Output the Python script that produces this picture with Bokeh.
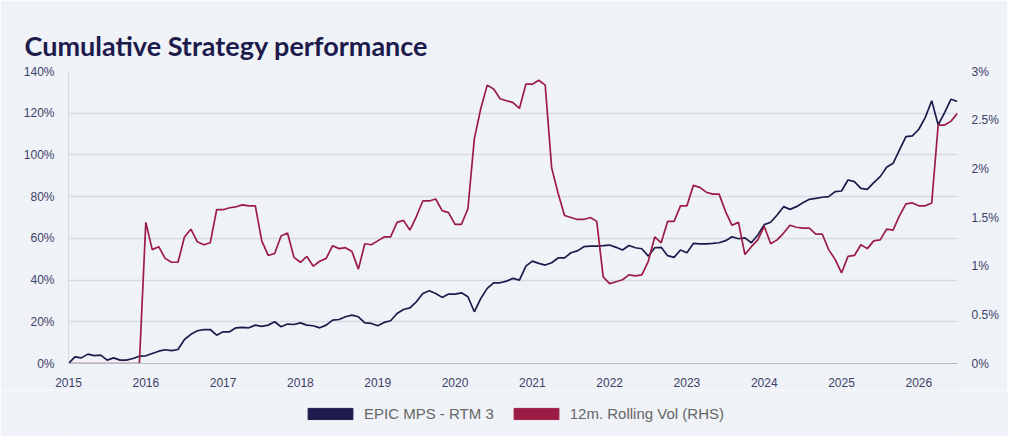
from bokeh.plotting import figure
from bokeh.layouts import column
from bokeh.models import Range1d, LinearAxis, CustomJSTickFormatter, FixedTicker, Legend, LegendItem
from bokeh.embed import file_html
from bokeh.resources import INLINE

months = list(range(139))
epic = [0, 3.2, 2.7, 4.5, 3.8, 4, 1.6, 2.7, 1.6, 1.6, 2.4, 3.5,
        3.7, 4.8, 5.9, 6.6, 6.2, 6.7, 11.5, 14, 15.7, 16.2, 16.3, 13.6,
        15.2, 15.2, 17.1, 17.3, 17.1, 18.4, 17.8, 18.4, 20, 17.6, 18.9, 18.7,
        19.5, 18.4, 18.1, 17.1, 18.4, 20.8, 21.1, 22.4, 23.2, 22.4, 19.5, 19.2,
        18.1, 19.7, 20.5, 24, 25.9, 26.7, 29.6, 33.6, 34.9, 33.6, 31.7, 33.3,
        33.3, 33.9, 32, 24.8, 31.2, 36, 38.7, 38.7, 39.5, 40.8, 40, 46.7,
        49.1, 48, 47.2, 48.3, 50.6, 50.6, 53.1, 54, 56, 56.3, 56.3, 56.5,
        56.8, 55.7, 54.4, 56.6, 55.5, 55, 51.5, 55.5, 55.7, 51.7, 50.9, 54.4,
        53.1, 57.6, 57.4, 57.4, 57.6, 57.9, 58.9, 60.8, 59.8, 60.2, 57.9, 61.6,
        66.6, 67.7, 71.2, 75.2, 73.9, 75.2, 77.1, 78.7, 79.2, 79.7, 80, 82.4,
        82.7, 88, 87.2, 84, 83.5, 86.7, 89.6, 94.1, 96, 102.4, 108.8, 109.1,
        112.3, 118, 126, 114.4, 120.3, 126.7, 125.6]
vol = [0]*12 + [1.45, 1.17, 1.20, 1.08, 1.04, 1.04, 1.30, 1.38, 1.25, 1.22, 1.24, 1.58,
        1.58, 1.60, 1.61, 1.63, 1.62, 1.62, 1.26, 1.11, 1.13, 1.31, 1.34, 1.09,
        1.04, 1.10, 1.00, 1.05, 1.08, 1.21, 1.18, 1.19, 1.15, 0.97, 1.23, 1.22,
        1.26, 1.30, 1.30, 1.45, 1.47, 1.37, 1.51, 1.67, 1.67, 1.69, 1.57, 1.55,
        1.43, 1.43, 1.59, 2.31, 2.62, 2.86, 2.82, 2.72, 2.70, 2.68, 2.62, 2.87,
        2.87, 2.91, 2.86, 2.01, 1.75, 1.52, 1.50, 1.48, 1.48, 1.50, 1.46, 0.89,
        0.82, 0.84, 0.86, 0.91, 0.90, 0.91, 1.05, 1.30, 1.24, 1.46, 1.46, 1.62,
        1.62, 1.83, 1.81, 1.76, 1.74, 1.74, 1.56, 1.42, 1.45, 1.12, 1.20, 1.27,
        1.41, 1.23, 1.27, 1.34, 1.42, 1.40, 1.39, 1.39, 1.33, 1.33, 1.17, 1.07,
        0.93, 1.10, 1.11, 1.22, 1.18, 1.26, 1.27, 1.38, 1.37, 1.52, 1.64, 1.65,
        1.62, 1.62, 1.65, 2.45, 2.45, 2.49, 2.57]
years = list(range(2015, 2027))
left_ticks = [0, 20, 40, 60, 80, 100, 120, 140]
right_ticks = [0, 0.5, 1, 1.5, 2, 2.5, 3]
names = ["EPIC MPS - RTM 3", "12m. Rolling Vol (RHS)"]
colors = ["#1d1b4c", "#9c1c46"]

x = [2015 + m / 12 for m in months]
BG = "#eff2f7"
FONT = "Liberation Sans"

p = figure(output_backend="svg", toolbar_location=None,
           frame_width=889, frame_height=292,
           x_range=Range1d(2015, 2026.5), y_range=Range1d(0, 140),
           min_border_left=68, min_border_right=50, min_border_top=71, min_border_bottom=27,
           background_fill_color=BG, border_fill_color=BG, outline_line_color=None,
           title="Cumulative Strategy performance")
p.title.text_font = "Lato"
p.title.text_font_size = "27px"
p.title.text_font_style = "bold"
p.title.text_color = "#1d1b4c"
p.title.offset = -44
p.title.standoff = 20
p.extra_y_ranges = {"r": Range1d(0, 3)}

p.xgrid.visible = False
p.ygrid.grid_line_color = "#d6dae3"
p.ygrid.grid_line_width = 1.3

p.yaxis.ticker = FixedTicker(ticks=left_ticks)
p.yaxis.formatter = CustomJSTickFormatter(code="return tick + '%';")
p.xaxis.ticker = FixedTicker(ticks=years)
ra = LinearAxis(y_range_name="r", ticker=FixedTicker(ticks=right_ticks),
                formatter=CustomJSTickFormatter(code="return tick + '%';"))
p.add_layout(ra, "right")
for ax in [p.xaxis[0], p.yaxis[0], ra]:
    ax.major_tick_line_color = None
    ax.minor_tick_line_color = None
    ax.major_label_text_font = FONT
    ax.major_label_text_font_size = "12px"
    ax.major_label_text_color = "#3e3e66"
    ax.major_label_standoff = 8
p.xaxis.axis_line_color = "#b8bcc6"
p.yaxis[0].axis_line_color = "#d6dae3"
ra.axis_line_color = None

p.line(x, epic, line_color=colors[0], line_width=1.7)
p.line(x, vol, line_color=colors[1], line_width=1.7, y_range_name="r")

p2 = figure(width=1008, height=46, output_backend="svg", toolbar_location=None,
            min_border=0, background_fill_color=BG, border_fill_color=BG,
            outline_line_color=None, x_range=Range1d(0, 1), y_range=Range1d(0, 1))
p2.axis.visible = False
p2.grid.visible = False
items = []
for n, c in zip(names, colors):
    r = p2.quad(left=[5], right=[6], top=[6], bottom=[5], fill_color=c, line_color=c)
    items.append(LegendItem(label=n, renderers=[r]))
leg = Legend(items=items, orientation="horizontal", location="center",
             background_fill_alpha=0, border_line_color=None,
             glyph_width=56, glyph_height=14, label_text_font=FONT,
             label_text_font_size="15px", label_text_color="#666666",
             spacing=14, padding=4, margin=0, label_standoff=6)
p2.add_layout(leg, "center")

open("out.html", "w").write(file_html(column(p, p2, spacing=0), INLINE))
